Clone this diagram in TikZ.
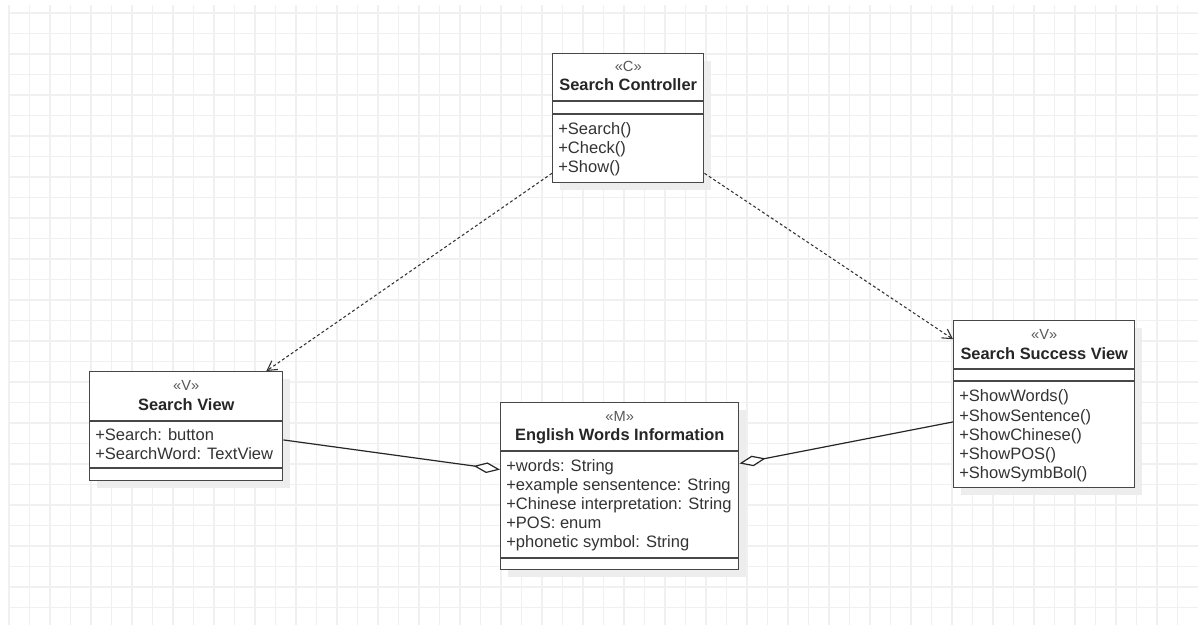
\documentclass[tikz,border=0pt]{standalone}
\usepackage{fontspec}
\setmainfont{Liberation Sans}
\usetikzlibrary{arrows.meta,calc}
\begin{document}
\begin{tikzpicture}[x=0.75pt,y=-0.75pt,
 gridline/.style={draw=black!6,line width=1pt},
 shade/.style={fill=black!7},
 classbox/.style={draw=black!72,line width=1.1pt,fill=white,inner sep=0pt,anchor=north west},
 sep/.style={draw=black!72,line width=1.1pt},
 stereo/.style={font=\fontsize{11}{13}\selectfont,text=black!65,anchor=base,inner sep=0pt},
 cname/.style={font=\fontsize{12.3}{14}\selectfont\bfseries,text=black!85,anchor=base,inner sep=0pt},
 member/.style={font=\fontsize{12.4}{14}\selectfont,text=black!80,anchor=base west,inner sep=0pt},
 dep/.style={draw=black!80,line width=0.8pt,dash pattern=on 2.2pt off 1.8pt,-{Straight Barb[length=7pt,width=8pt]}},
 aggr/.style={draw=black!85,line width=0.9pt,-{Diamond[open,length=20pt,width=8pt,fill=white]}}
]
\useasboundingbox (0,0) rectangle (1198,625);
\fill[white] (0,0) rectangle (1198,625);
% grid
\foreach \i in {0,...,57} \draw[gridline] ({9+20.5*\i},5) -- ({9+20.5*\i},625);
\foreach \j in {0,...,29} \draw[gridline] (8,{13+20.5*\j}) -- (1198,{13+20.5*\j});

% shadows
\fill[shade] (560,61) rectangle (711,190);
\fill[shade] (97,379) rectangle (290,488);
\fill[shade] (508,410) rectangle (746,577);
\fill[shade] (961,328) rectangle (1142,495);

% Search Controller
\node[classbox,minimum width=113.25pt,minimum height=96.75pt] (sc) at (552,53) {};
\draw[sep] ($(sc.north west)+(0,48)$) -- ($(sc.north east)+(0,48)$);
\draw[sep] ($(sc.north west)+(0,61)$) -- ($(sc.north east)+(0,61)$);
\node[stereo] (scst) at ($(sc.north)+(0,18.7)$) {«C»};
\node[cname] (scn) at ($(sc.north)+(0,37.7)$) {Search Controller};
\node[member] (scm1) at ($(sc.north west)+(6,81)$) {+Search()};
\node[member] (scm2) at ($(sc.north west)+(6,100)$) {+Check()};
\node[member] (scm3) at ($(sc.north west)+(6,119.3)$) {+Show()};

% Search View
\node[classbox,minimum width=144.75pt,minimum height=81.75pt] (sv) at (89,371) {};
\draw[sep] ($(sv.north west)+(0,50)$) -- ($(sv.north east)+(0,50)$);
\draw[sep] ($(sv.north west)+(0,97)$) -- ($(sv.north east)+(0,97)$);
\node[stereo] (svst) at ($(sv.north)+(0,19)$) {«V»};
\node[cname] (svn) at ($(sv.north)+(0,39)$) {Search View};
\node[member] (sva1) at ($(sv.north west)+(6,69)$) {+Search: button};
\node[member] (sva2) at ($(sv.north west)+(6,88)$) {+SearchWord: TextView};

% English Words Information
\node[classbox,minimum width=178.5pt,minimum height=125.25pt] (ewi) at (500,402) {};
\draw[sep] ($(ewi.north west)+(0,49)$) -- ($(ewi.north east)+(0,49)$);
\draw[sep] ($(ewi.north west)+(0,156)$) -- ($(ewi.north east)+(0,156)$);
\node[stereo] (ewist) at ($(ewi.north)+(0,19)$) {«M»};
\node[cname] (ewin) at ($(ewi.north)+(0,38.7)$) {English Words Information};
\node[member] (ewia1) at ($(ewi.north west)+(6,69)$) {+words: String};
\node[member] (ewia2) at ($(ewi.north west)+(6,88)$) {+example sensentence: String};
\node[member] (ewia3) at ($(ewi.north west)+(6,107.3)$) {+Chinese interpretation: String};
\node[member] (ewia4) at ($(ewi.north west)+(6,126.3)$) {+POS: enum};
\node[member] (ewia5) at ($(ewi.north west)+(6,145.3)$) {+phonetic symbol: String};

% Search Success View
\node[classbox,minimum width=135.75pt,minimum height=125.25pt] (ssv) at (953,320) {};
\draw[sep] ($(ssv.north west)+(0,49)$) -- ($(ssv.north east)+(0,49)$);
\draw[sep] ($(ssv.north west)+(0,61)$) -- ($(ssv.north east)+(0,61)$);
\node[stereo] (ssvst) at ($(ssv.north)+(0,19)$) {«V»};
\node[cname] (ssvn) at ($(ssv.north)+(0,39.3)$) {Search Success View};
\node[member] (ssvm1) at ($(ssv.north west)+(6,81.7)$) {+ShowWords()};
\node[member] (ssvm2) at ($(ssv.north west)+(6,101)$) {+ShowSentence()};
\node[member] (ssvm3) at ($(ssv.north west)+(6,120)$) {+ShowChinese()};
\node[member] (ssvm4) at ($(ssv.north west)+(6,139.3)$) {+ShowPOS()};
\node[member] (ssvm5) at ($(ssv.north west)+(6,158.3)$) {+ShowSymbBol()};

% connectors
\draw[dep] ($(sc.north west)!0.922!(sc.south west)$) -- ($(sv.north west)!0.912!(sv.north east)$);
\draw[dep] ($(sc.north east)!0.922!(sc.south east)$) -- ($(ssv.north west)!0.114!(ssv.south west)$);
\draw[aggr] ($(sv.north east)!0.624!(sv.south east)$) -- ($(ewi.north west)!0.401!(ewi.south west)$);
\draw[aggr] ($(ssv.north west)!0.605!(ssv.south west)$) -- ($(ewi.north east)!0.365!(ewi.south east)$);
\end{tikzpicture}
\end{document}
